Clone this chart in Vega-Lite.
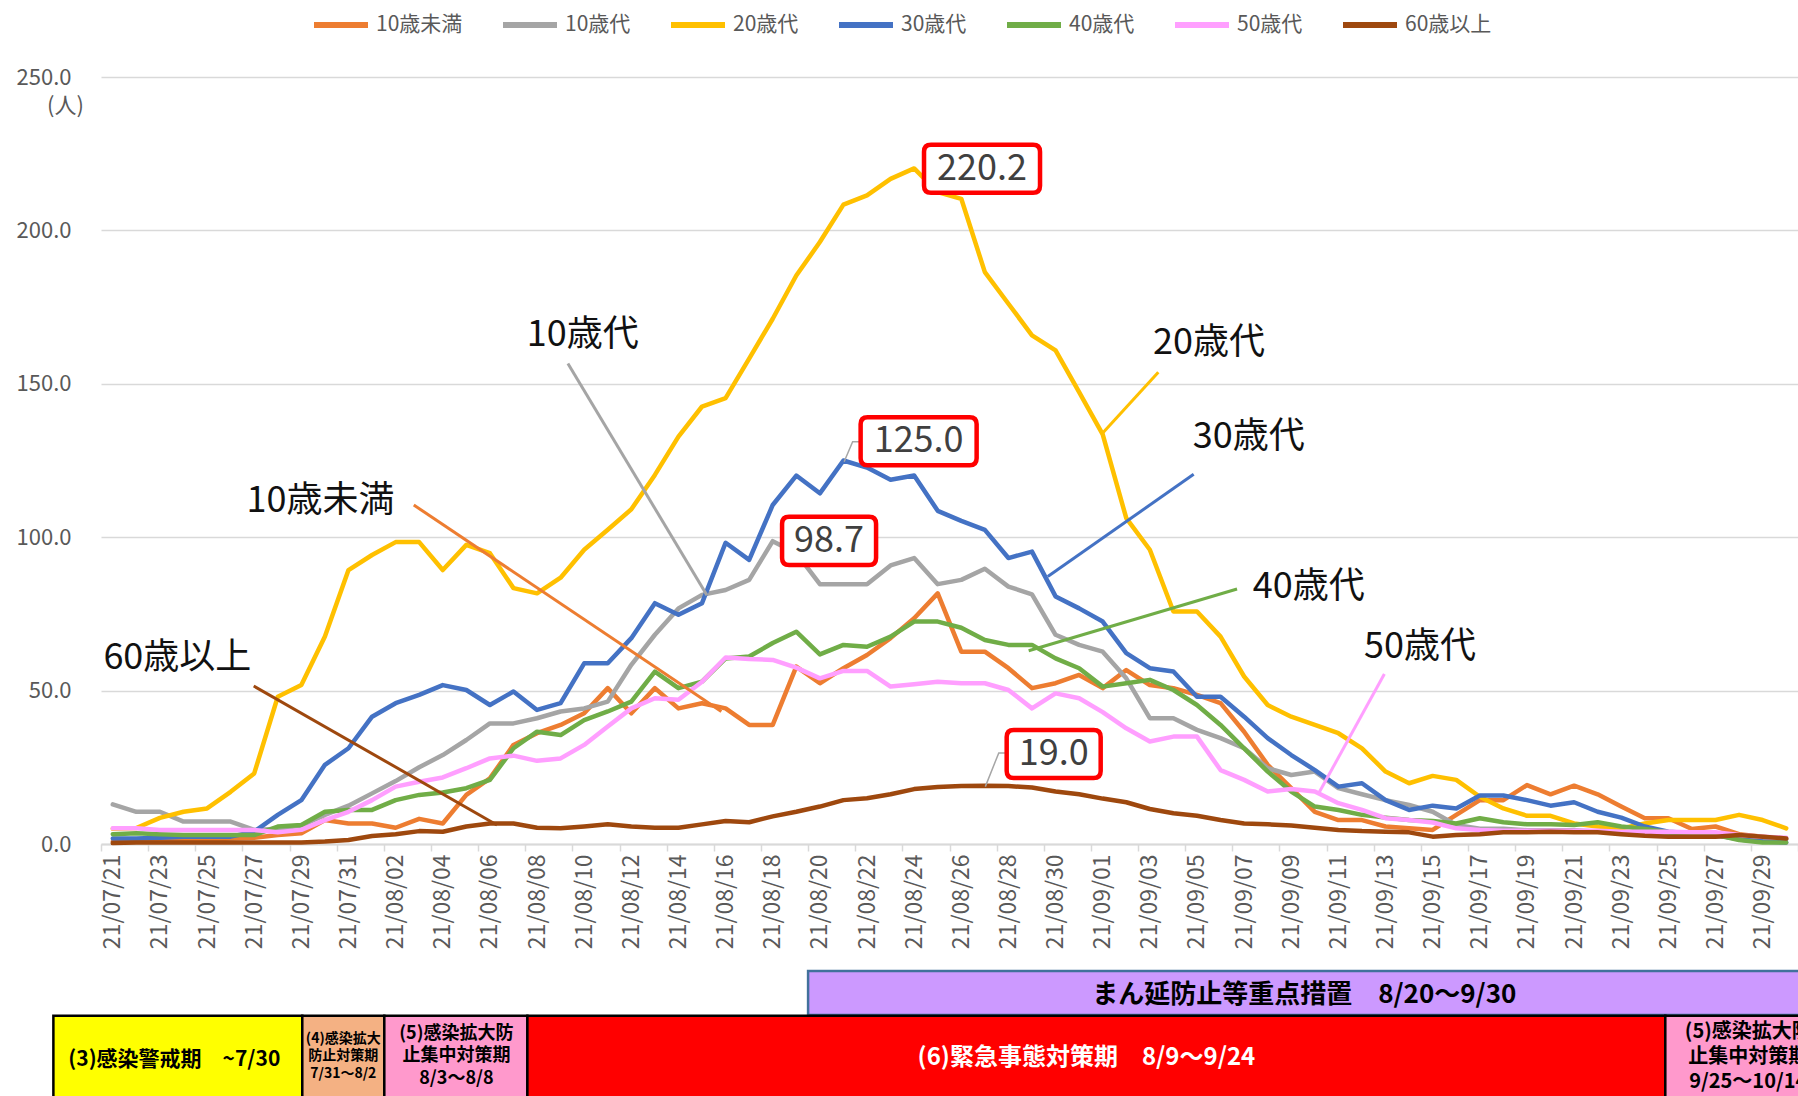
{
"$schema":"https://vega.github.io/schema/vega-lite/v6.json",
"width":1697,"height":767,
"autosize":{"type":"none"},
"padding":{"left":101,"top":77,"right":0,"bottom":252},
"background":"#FFFFFF",
"config":{"font":"Noto Sans CJK JP","view":{"stroke":null}},
"layer":[
{
"data":{"values":[
{"date":"2021-07-21","series":"10歳未満","count":0.8},{"date":"2021-07-22","series":"10歳未満","count":1.0},{"date":"2021-07-23","series":"10歳未満","count":1.0},{"date":"2021-07-24","series":"10歳未満","count":1.3},{"date":"2021-07-25","series":"10歳未満","count":1.5},{"date":"2021-07-26","series":"10歳未満","count":1.8},{"date":"2021-07-27","series":"10歳未満","count":2.0},{"date":"2021-07-28","series":"10歳未満","count":2.9},{"date":"2021-07-29","series":"10歳未満","count":3.5},{"date":"2021-07-30","series":"10歳未満","count":7.8},
{"date":"2021-07-31","series":"10歳未満","count":6.7},{"date":"2021-08-01","series":"10歳未満","count":6.7},{"date":"2021-08-02","series":"10歳未満","count":5.3},{"date":"2021-08-03","series":"10歳未満","count":8.2},{"date":"2021-08-04","series":"10歳未満","count":6.7},{"date":"2021-08-05","series":"10歳未満","count":16.0},{"date":"2021-08-06","series":"10歳未満","count":21.4},{"date":"2021-08-07","series":"10歳未満","count":32.3},{"date":"2021-08-08","series":"10歳未満","count":36.1},{"date":"2021-08-09","series":"10歳未満","count":38.8},
{"date":"2021-08-10","series":"10歳未満","count":42.6},{"date":"2021-08-11","series":"10歳未満","count":50.8},{"date":"2021-08-12","series":"10歳未満","count":42.6},{"date":"2021-08-13","series":"10歳未満","count":50.8},{"date":"2021-08-14","series":"10歳未満","count":44.2},{"date":"2021-08-15","series":"10歳未満","count":45.9},{"date":"2021-08-16","series":"10歳未満","count":44.2},{"date":"2021-08-17","series":"10歳未満","count":38.8},{"date":"2021-08-18","series":"10歳未満","count":38.8},{"date":"2021-08-19","series":"10歳未満","count":57.8},
{"date":"2021-08-20","series":"10歳未満","count":52.4},{"date":"2021-08-21","series":"10歳未満","count":57.3},{"date":"2021-08-22","series":"10歳未満","count":61.6},{"date":"2021-08-23","series":"10歳未満","count":67.1},{"date":"2021-08-24","series":"10歳未満","count":73.6},{"date":"2021-08-25","series":"10歳未満","count":81.7},{"date":"2021-08-26","series":"10歳未満","count":62.7},{"date":"2021-08-27","series":"10歳未満","count":62.7},{"date":"2021-08-28","series":"10歳未満","count":57.3},{"date":"2021-08-29","series":"10歳未満","count":50.8},
{"date":"2021-08-30","series":"10歳未満","count":52.4},{"date":"2021-08-31","series":"10歳未満","count":55.1},{"date":"2021-09-01","series":"10歳未満","count":50.8},{"date":"2021-09-02","series":"10歳未満","count":56.7},{"date":"2021-09-03","series":"10歳未満","count":51.8},{"date":"2021-09-04","series":"10歳未満","count":50.8},{"date":"2021-09-05","series":"10歳未満","count":48.6},{"date":"2021-09-06","series":"10歳未満","count":45.9},{"date":"2021-09-07","series":"10歳未満","count":36.6},{"date":"2021-09-08","series":"10歳未満","count":25.8},
{"date":"2021-09-09","series":"10歳未満","count":18.2},{"date":"2021-09-10","series":"10歳未満","count":10.5},{"date":"2021-09-11","series":"10歳未満","count":7.8},{"date":"2021-09-12","series":"10歳未満","count":7.8},{"date":"2021-09-13","series":"10歳未満","count":5.7},{"date":"2021-09-14","series":"10歳未満","count":5.1},{"date":"2021-09-15","series":"10歳未満","count":4.6},{"date":"2021-09-16","series":"10歳未満","count":9.5},{"date":"2021-09-17","series":"10歳未満","count":14.3},{"date":"2021-09-18","series":"10歳未満","count":14.3},
{"date":"2021-09-19","series":"10歳未満","count":19.2},{"date":"2021-09-20","series":"10歳未満","count":16.2},{"date":"2021-09-21","series":"10歳未満","count":19.0},{"date":"2021-09-22","series":"10歳未満","count":16.2},{"date":"2021-09-23","series":"10歳未満","count":12.2},{"date":"2021-09-24","series":"10歳未満","count":8.4},{"date":"2021-09-25","series":"10歳未満","count":8.4},{"date":"2021-09-26","series":"10歳未満","count":4.9},{"date":"2021-09-27","series":"10歳未満","count":5.7},{"date":"2021-09-28","series":"10歳未満","count":3.2},
{"date":"2021-09-29","series":"10歳未満","count":2.4},{"date":"2021-09-30","series":"10歳未満","count":1.6},

{"date":"2021-07-21","series":"10歳代","count":12.9},{"date":"2021-07-22","series":"10歳代","count":10.5},{"date":"2021-07-23","series":"10歳代","count":10.5},{"date":"2021-07-24","series":"10歳代","count":7.3},{"date":"2021-07-25","series":"10歳代","count":7.3},{"date":"2021-07-26","series":"10歳代","count":7.3},{"date":"2021-07-27","series":"10歳代","count":4.6},{"date":"2021-07-28","series":"10歳代","count":5.0},{"date":"2021-07-29","series":"10歳代","count":6.0},{"date":"2021-07-30","series":"10歳代","count":9.5},
{"date":"2021-07-31","series":"10歳代","count":12.5},{"date":"2021-08-01","series":"10歳代","count":16.5},{"date":"2021-08-02","series":"10歳代","count":20.5},{"date":"2021-08-03","series":"10歳代","count":25.0},{"date":"2021-08-04","series":"10歳代","count":29.0},{"date":"2021-08-05","series":"10歳代","count":33.9},{"date":"2021-08-06","series":"10歳代","count":39.3},{"date":"2021-08-07","series":"10歳代","count":39.3},{"date":"2021-08-08","series":"10歳代","count":41.0},{"date":"2021-08-09","series":"10歳代","count":43.2},
{"date":"2021-08-10","series":"10歳代","count":44.2},{"date":"2021-08-11","series":"10歳代","count":46.4},{"date":"2021-08-12","series":"10歳代","count":58.4},{"date":"2021-08-13","series":"10歳代","count":68.2},{"date":"2021-08-14","series":"10歳代","count":76.8},{"date":"2021-08-15","series":"10歳代","count":81.2},{"date":"2021-08-16","series":"10歳代","count":82.8},{"date":"2021-08-17","series":"10歳代","count":86.1},{"date":"2021-08-18","series":"10歳代","count":98.7},{"date":"2021-08-19","series":"10歳代","count":94.8},
{"date":"2021-08-20","series":"10歳代","count":84.7},{"date":"2021-08-21","series":"10歳代","count":84.7},{"date":"2021-08-22","series":"10歳代","count":84.7},{"date":"2021-08-23","series":"10歳代","count":90.8},{"date":"2021-08-24","series":"10歳代","count":93.2},{"date":"2021-08-25","series":"10歳代","count":84.7},{"date":"2021-08-26","series":"10歳代","count":86.1},{"date":"2021-08-27","series":"10歳代","count":89.7},{"date":"2021-08-28","series":"10歳代","count":83.9},{"date":"2021-08-29","series":"10歳代","count":81.4},
{"date":"2021-08-30","series":"10歳代","count":68.2},{"date":"2021-08-31","series":"10歳代","count":64.9},{"date":"2021-09-01","series":"10歳代","count":62.7},{"date":"2021-09-02","series":"10歳代","count":54.0},{"date":"2021-09-03","series":"10歳代","count":41.0},{"date":"2021-09-04","series":"10歳代","count":41.0},{"date":"2021-09-05","series":"10歳代","count":37.2},{"date":"2021-09-06","series":"10歳代","count":34.5},{"date":"2021-09-07","series":"10歳代","count":31.2},{"date":"2021-09-08","series":"10歳代","count":24.7},
{"date":"2021-09-09","series":"10歳代","count":22.5},{"date":"2021-09-10","series":"10歳代","count":23.6},{"date":"2021-09-11","series":"10歳代","count":18.2},{"date":"2021-09-12","series":"10歳代","count":16.2},{"date":"2021-09-13","series":"10歳代","count":14.3},{"date":"2021-09-14","series":"10歳代","count":12.7},{"date":"2021-09-15","series":"10歳代","count":10.5},{"date":"2021-09-16","series":"10歳代","count":6.2},{"date":"2021-09-17","series":"10歳代","count":5.0},{"date":"2021-09-18","series":"10歳代","count":5.0},
{"date":"2021-09-19","series":"10歳代","count":4.5},{"date":"2021-09-20","series":"10歳代","count":4.5},{"date":"2021-09-21","series":"10歳代","count":4.5},{"date":"2021-09-22","series":"10歳代","count":4.0},{"date":"2021-09-23","series":"10歳代","count":4.0},{"date":"2021-09-24","series":"10歳代","count":3.5},{"date":"2021-09-25","series":"10歳代","count":3.0},{"date":"2021-09-26","series":"10歳代","count":3.0},{"date":"2021-09-27","series":"10歳代","count":2.5},{"date":"2021-09-28","series":"10歳代","count":2.0},
{"date":"2021-09-29","series":"10歳代","count":1.5},{"date":"2021-09-30","series":"10歳代","count":1.5},

{"date":"2021-07-21","series":"20歳代","count":5.0},{"date":"2021-07-22","series":"20歳代","count":5.2},{"date":"2021-07-23","series":"20歳代","count":8.5},{"date":"2021-07-24","series":"20歳代","count":10.5},{"date":"2021-07-25","series":"20歳代","count":11.6},{"date":"2021-07-26","series":"20歳代","count":17.0},{"date":"2021-07-27","series":"20歳代","count":23.0},{"date":"2021-07-28","series":"20歳代","count":48.0},{"date":"2021-07-29","series":"20歳代","count":51.8},{"date":"2021-07-30","series":"20歳代","count":67.6},
{"date":"2021-07-31","series":"20歳代","count":89.3},{"date":"2021-08-01","series":"20歳代","count":94.2},{"date":"2021-08-02","series":"20歳代","count":98.4},{"date":"2021-08-03","series":"20歳代","count":98.4},{"date":"2021-08-04","series":"20歳代","count":89.3},{"date":"2021-08-05","series":"20歳代","count":97.5},{"date":"2021-08-06","series":"20歳代","count":94.8},{"date":"2021-08-07","series":"20歳代","count":83.4},{"date":"2021-08-08","series":"20歳代","count":81.7},{"date":"2021-08-09","series":"20歳代","count":86.8},
{"date":"2021-08-10","series":"20歳代","count":95.9},{"date":"2021-08-11","series":"20歳代","count":102.4},{"date":"2021-08-12","series":"20歳代","count":109.1},{"date":"2021-08-13","series":"20歳代","count":120.3},{"date":"2021-08-14","series":"20歳代","count":132.8},{"date":"2021-08-15","series":"20歳代","count":142.6},{"date":"2021-08-16","series":"20歳代","count":145.3},{"date":"2021-08-17","series":"20歳代","count":158.2},{"date":"2021-08-18","series":"20歳代","count":171.2},{"date":"2021-08-19","series":"20歳代","count":185.3},
{"date":"2021-08-20","series":"20歳代","count":196.2},{"date":"2021-08-21","series":"20歳代","count":208.4},{"date":"2021-08-22","series":"20歳代","count":211.4},{"date":"2021-08-23","series":"20歳代","count":216.8},{"date":"2021-08-24","series":"20歳代","count":220.2},{"date":"2021-08-25","series":"20歳代","count":212.5},{"date":"2021-08-26","series":"20歳代","count":210.3},{"date":"2021-08-27","series":"20歳代","count":186.4},{"date":"2021-08-28","series":"20歳代","count":176.1},{"date":"2021-08-29","series":"20歳代","count":165.8},
{"date":"2021-08-30","series":"20歳代","count":160.9},{"date":"2021-08-31","series":"20歳代","count":147.3},{"date":"2021-09-01","series":"20歳代","count":133.5},{"date":"2021-09-02","series":"20歳代","count":106.2},{"date":"2021-09-03","series":"20歳代","count":95.9},{"date":"2021-09-04","series":"20歳代","count":75.8},{"date":"2021-09-05","series":"20歳代","count":75.8},{"date":"2021-09-06","series":"20歳代","count":67.6},{"date":"2021-09-07","series":"20歳代","count":54.6},{"date":"2021-09-08","series":"20歳代","count":45.3},
{"date":"2021-09-09","series":"20歳代","count":41.5},{"date":"2021-09-10","series":"20歳代","count":38.8},{"date":"2021-09-11","series":"20歳代","count":36.1},{"date":"2021-09-12","series":"20歳代","count":31.2},{"date":"2021-09-13","series":"20歳代","count":23.6},{"date":"2021-09-14","series":"20歳代","count":19.8},{"date":"2021-09-15","series":"20歳代","count":22.2},{"date":"2021-09-16","series":"20歳代","count":20.9},{"date":"2021-09-17","series":"20歳代","count":15.4},{"date":"2021-09-18","series":"20歳代","count":11.6},
{"date":"2021-09-19","series":"20歳代","count":9.2},{"date":"2021-09-20","series":"20歳代","count":9.2},{"date":"2021-09-21","series":"20歳代","count":6.7},{"date":"2021-09-22","series":"20歳代","count":5.7},{"date":"2021-09-23","series":"20歳代","count":5.1},{"date":"2021-09-24","series":"20歳代","count":6.7},{"date":"2021-09-25","series":"20歳代","count":7.8},{"date":"2021-09-26","series":"20歳代","count":7.8},{"date":"2021-09-27","series":"20歳代","count":7.8},{"date":"2021-09-28","series":"20歳代","count":9.5},
{"date":"2021-09-29","series":"20歳代","count":7.8},{"date":"2021-09-30","series":"20歳代","count":5.1},

{"date":"2021-07-21","series":"30歳代","count":1.8},{"date":"2021-07-22","series":"30歳代","count":1.8},{"date":"2021-07-23","series":"30歳代","count":2.0},{"date":"2021-07-24","series":"30歳代","count":2.4},{"date":"2021-07-25","series":"30歳代","count":2.4},{"date":"2021-07-26","series":"30歳代","count":2.4},{"date":"2021-07-27","series":"30歳代","count":4.0},{"date":"2021-07-28","series":"30歳代","count":9.5},{"date":"2021-07-29","series":"30歳代","count":14.3},{"date":"2021-07-30","series":"30歳代","count":25.8},
{"date":"2021-07-31","series":"30歳代","count":31.2},{"date":"2021-08-01","series":"30歳代","count":41.5},{"date":"2021-08-02","series":"30歳代","count":45.9},{"date":"2021-08-03","series":"30歳代","count":48.6},{"date":"2021-08-04","series":"30歳代","count":51.8},{"date":"2021-08-05","series":"30歳代","count":50.2},{"date":"2021-08-06","series":"30歳代","count":45.3},{"date":"2021-08-07","series":"30歳代","count":49.7},{"date":"2021-08-08","series":"30歳代","count":43.7},{"date":"2021-08-09","series":"30歳代","count":45.9},
{"date":"2021-08-10","series":"30歳代","count":58.9},{"date":"2021-08-11","series":"30歳代","count":58.9},{"date":"2021-08-12","series":"30歳代","count":67.1},{"date":"2021-08-13","series":"30歳代","count":78.5},{"date":"2021-08-14","series":"30歳代","count":74.7},{"date":"2021-08-15","series":"30歳代","count":78.5},{"date":"2021-08-16","series":"30歳代","count":98.2},{"date":"2021-08-17","series":"30歳代","count":92.6},{"date":"2021-08-18","series":"30歳代","count":110.5},{"date":"2021-08-19","series":"30歳代","count":120.1},
{"date":"2021-08-20","series":"30歳代","count":114.3},{"date":"2021-08-21","series":"30歳代","count":125.0},{"date":"2021-08-22","series":"30歳代","count":122.7},{"date":"2021-08-23","series":"30歳代","count":118.7},{"date":"2021-08-24","series":"30歳代","count":120.1},{"date":"2021-08-25","series":"30歳代","count":108.6},{"date":"2021-08-26","series":"30歳代","count":105.3},{"date":"2021-08-27","series":"30歳代","count":102.4},{"date":"2021-08-28","series":"30歳代","count":93.2},{"date":"2021-08-29","series":"30歳代","count":95.3},
{"date":"2021-08-30","series":"30歳代","count":80.7},{"date":"2021-08-31","series":"30歳代","count":76.8},{"date":"2021-09-01","series":"30歳代","count":72.5},{"date":"2021-09-02","series":"30歳代","count":62.2},{"date":"2021-09-03","series":"30歳代","count":57.3},{"date":"2021-09-04","series":"30歳代","count":56.2},{"date":"2021-09-05","series":"30歳代","count":48.0},{"date":"2021-09-06","series":"30歳代","count":48.0},{"date":"2021-09-07","series":"30歳代","count":41.5},{"date":"2021-09-08","series":"30歳代","count":34.5},
{"date":"2021-09-09","series":"30歳代","count":29.0},{"date":"2021-09-10","series":"30歳代","count":24.1},{"date":"2021-09-11","series":"30歳代","count":18.7},{"date":"2021-09-12","series":"30歳代","count":19.8},{"date":"2021-09-13","series":"30歳代","count":14.3},{"date":"2021-09-14","series":"30歳代","count":11.1},{"date":"2021-09-15","series":"30歳代","count":12.5},{"date":"2021-09-16","series":"30歳代","count":11.6},{"date":"2021-09-17","series":"30歳代","count":15.8},{"date":"2021-09-18","series":"30歳代","count":15.8},
{"date":"2021-09-19","series":"30歳代","count":14.3},{"date":"2021-09-20","series":"30歳代","count":12.5},{"date":"2021-09-21","series":"30歳代","count":13.6},{"date":"2021-09-22","series":"30歳代","count":10.5},{"date":"2021-09-23","series":"30歳代","count":8.6},{"date":"2021-09-24","series":"30歳代","count":5.7},{"date":"2021-09-25","series":"30歳代","count":4.0},{"date":"2021-09-26","series":"30歳代","count":3.5},{"date":"2021-09-27","series":"30歳代","count":3.0},{"date":"2021-09-28","series":"30歳代","count":1.5},
{"date":"2021-09-29","series":"30歳代","count":0.8},{"date":"2021-09-30","series":"30歳代","count":0.5},

{"date":"2021-07-21","series":"40歳代","count":3.2},{"date":"2021-07-22","series":"40歳代","count":3.5},{"date":"2021-07-23","series":"40歳代","count":3.2},{"date":"2021-07-24","series":"40歳代","count":2.9},{"date":"2021-07-25","series":"40歳代","count":2.9},{"date":"2021-07-26","series":"40歳代","count":2.9},{"date":"2021-07-27","series":"40歳代","count":2.9},{"date":"2021-07-28","series":"40歳代","count":5.7},{"date":"2021-07-29","series":"40歳代","count":6.2},{"date":"2021-07-30","series":"40歳代","count":10.5},
{"date":"2021-07-31","series":"40歳代","count":11.1},{"date":"2021-08-01","series":"40歳代","count":11.1},{"date":"2021-08-02","series":"40歳代","count":14.3},{"date":"2021-08-03","series":"40歳代","count":16.0},{"date":"2021-08-04","series":"40歳代","count":16.8},{"date":"2021-08-05","series":"40歳代","count":18.2},{"date":"2021-08-06","series":"40歳代","count":20.9},{"date":"2021-08-07","series":"40歳代","count":31.2},{"date":"2021-08-08","series":"40歳代","count":36.6},{"date":"2021-08-09","series":"40歳代","count":35.5},
{"date":"2021-08-10","series":"40歳代","count":40.4},{"date":"2021-08-11","series":"40歳代","count":43.2},{"date":"2021-08-12","series":"40歳代","count":46.4},{"date":"2021-08-13","series":"40歳代","count":56.2},{"date":"2021-08-14","series":"40歳代","count":50.8},{"date":"2021-08-15","series":"40歳代","count":52.9},{"date":"2021-08-16","series":"40歳代","count":60.5},{"date":"2021-08-17","series":"40歳代","count":61.1},{"date":"2021-08-18","series":"40歳代","count":65.5},{"date":"2021-08-19","series":"40歳代","count":69.2},
{"date":"2021-08-20","series":"40歳代","count":61.8},{"date":"2021-08-21","series":"40歳代","count":64.9},{"date":"2021-08-22","series":"40歳代","count":64.3},{"date":"2021-08-23","series":"40歳代","count":67.6},{"date":"2021-08-24","series":"40歳代","count":72.5},{"date":"2021-08-25","series":"40歳代","count":72.5},{"date":"2021-08-26","series":"40歳代","count":70.5},{"date":"2021-08-27","series":"40歳代","count":66.5},{"date":"2021-08-28","series":"40歳代","count":64.9},{"date":"2021-08-29","series":"40歳代","count":64.9},
{"date":"2021-08-30","series":"40歳代","count":60.5},{"date":"2021-08-31","series":"40歳代","count":57.3},{"date":"2021-09-01","series":"40歳代","count":51.3},{"date":"2021-09-02","series":"40歳代","count":52.4},{"date":"2021-09-03","series":"40歳代","count":53.5},{"date":"2021-09-04","series":"40歳代","count":50.2},{"date":"2021-09-05","series":"40歳代","count":45.3},{"date":"2021-09-06","series":"40歳代","count":38.8},{"date":"2021-09-07","series":"40歳代","count":31.2},{"date":"2021-09-08","series":"40歳代","count":23.6},
{"date":"2021-09-09","series":"40歳代","count":17.1},{"date":"2021-09-10","series":"40歳代","count":12.2},{"date":"2021-09-11","series":"40歳代","count":11.1},{"date":"2021-09-12","series":"40歳代","count":9.5},{"date":"2021-09-13","series":"40歳代","count":8.6},{"date":"2021-09-14","series":"40歳代","count":7.8},{"date":"2021-09-15","series":"40歳代","count":7.5},{"date":"2021-09-16","series":"40歳代","count":6.7},{"date":"2021-09-17","series":"40歳代","count":8.4},{"date":"2021-09-18","series":"40歳代","count":7.1},
{"date":"2021-09-19","series":"40歳代","count":6.4},{"date":"2021-09-20","series":"40歳代","count":6.4},{"date":"2021-09-21","series":"40歳代","count":6.2},{"date":"2021-09-22","series":"40歳代","count":7.1},{"date":"2021-09-23","series":"40歳代","count":5.7},{"date":"2021-09-24","series":"40歳代","count":4.9},{"date":"2021-09-25","series":"40歳代","count":3.8},{"date":"2021-09-26","series":"40歳代","count":3.5},{"date":"2021-09-27","series":"40歳代","count":3.0},{"date":"2021-09-28","series":"40歳代","count":1.3},
{"date":"2021-09-29","series":"40歳代","count":0.5},{"date":"2021-09-30","series":"40歳代","count":0.5},

{"date":"2021-07-21","series":"50歳代","count":5.1},{"date":"2021-07-22","series":"50歳代","count":5.1},{"date":"2021-07-23","series":"50歳代","count":4.6},{"date":"2021-07-24","series":"50歳代","count":4.6},{"date":"2021-07-25","series":"50歳代","count":4.6},{"date":"2021-07-26","series":"50歳代","count":4.6},{"date":"2021-07-27","series":"50歳代","count":4.6},{"date":"2021-07-28","series":"50歳代","count":3.8},{"date":"2021-07-29","series":"50歳代","count":4.6},{"date":"2021-07-30","series":"50歳代","count":7.8},
{"date":"2021-07-31","series":"50歳代","count":10.5},{"date":"2021-08-01","series":"50歳代","count":14.3},{"date":"2021-08-02","series":"50歳代","count":18.7},{"date":"2021-08-03","series":"50歳代","count":20.3},{"date":"2021-08-04","series":"50歳代","count":21.7},{"date":"2021-08-05","series":"50歳代","count":24.7},{"date":"2021-08-06","series":"50歳代","count":27.9},{"date":"2021-08-07","series":"50歳代","count":28.8},{"date":"2021-08-08","series":"50歳代","count":27.1},{"date":"2021-08-09","series":"50歳代","count":27.9},
{"date":"2021-08-10","series":"50歳代","count":32.3},{"date":"2021-08-11","series":"50歳代","count":38.3},{"date":"2021-08-12","series":"50歳代","count":44.2},{"date":"2021-08-13","series":"50歳代","count":47.5},{"date":"2021-08-14","series":"50歳代","count":47.0},{"date":"2021-08-15","series":"50歳代","count":52.9},{"date":"2021-08-16","series":"50歳代","count":60.8},{"date":"2021-08-17","series":"50歳代","count":60.3},{"date":"2021-08-18","series":"50歳代","count":60.0},{"date":"2021-08-19","series":"50歳代","count":57.5},
{"date":"2021-08-20","series":"50歳代","count":54.0},{"date":"2021-08-21","series":"50歳代","count":56.4},{"date":"2021-08-22","series":"50歳代","count":56.4},{"date":"2021-08-23","series":"50歳代","count":51.3},{"date":"2021-08-24","series":"50歳代","count":52.1},{"date":"2021-08-25","series":"50歳代","count":52.9},{"date":"2021-08-26","series":"50歳代","count":52.4},{"date":"2021-08-27","series":"50歳代","count":52.4},{"date":"2021-08-28","series":"50歳代","count":50.2},{"date":"2021-08-29","series":"50歳代","count":44.2},
{"date":"2021-08-30","series":"50歳代","count":49.1},{"date":"2021-08-31","series":"50歳代","count":47.5},{"date":"2021-09-01","series":"50歳代","count":43.0},{"date":"2021-09-02","series":"50歳代","count":37.7},{"date":"2021-09-03","series":"50歳代","count":33.4},{"date":"2021-09-04","series":"50歳代","count":35.0},{"date":"2021-09-05","series":"50歳代","count":35.0},{"date":"2021-09-06","series":"50歳代","count":24.1},{"date":"2021-09-07","series":"50歳代","count":20.9},{"date":"2021-09-08","series":"50歳代","count":17.1},
{"date":"2021-09-09","series":"50歳代","count":17.9},{"date":"2021-09-10","series":"50歳代","count":17.1},{"date":"2021-09-11","series":"50歳代","count":13.3},{"date":"2021-09-12","series":"50歳代","count":11.1},{"date":"2021-09-13","series":"50歳代","count":8.4},{"date":"2021-09-14","series":"50歳代","count":7.8},{"date":"2021-09-15","series":"50歳代","count":7.0},{"date":"2021-09-16","series":"50歳代","count":5.1},{"date":"2021-09-17","series":"50歳代","count":4.6},{"date":"2021-09-18","series":"50歳代","count":4.3},
{"date":"2021-09-19","series":"50歳代","count":4.3},{"date":"2021-09-20","series":"50歳代","count":4.3},{"date":"2021-09-21","series":"50歳代","count":4.3},{"date":"2021-09-22","series":"50歳代","count":4.3},{"date":"2021-09-23","series":"50歳代","count":4.0},{"date":"2021-09-24","series":"50歳代","count":4.0},{"date":"2021-09-25","series":"50歳代","count":4.0},{"date":"2021-09-26","series":"50歳代","count":3.8},{"date":"2021-09-27","series":"50歳代","count":3.8},{"date":"2021-09-28","series":"50歳代","count":2.9},
{"date":"2021-09-29","series":"50歳代","count":2.4},{"date":"2021-09-30","series":"50歳代","count":2.0},

{"date":"2021-07-21","series":"60歳以上","count":0.3},{"date":"2021-07-22","series":"60歳以上","count":0.5},{"date":"2021-07-23","series":"60歳以上","count":0.5},{"date":"2021-07-24","series":"60歳以上","count":0.5},{"date":"2021-07-25","series":"60歳以上","count":0.5},{"date":"2021-07-26","series":"60歳以上","count":0.5},{"date":"2021-07-27","series":"60歳以上","count":0.5},{"date":"2021-07-28","series":"60歳以上","count":0.5},{"date":"2021-07-29","series":"60歳以上","count":0.5},{"date":"2021-07-30","series":"60歳以上","count":0.8},
{"date":"2021-07-31","series":"60歳以上","count":1.3},{"date":"2021-08-01","series":"60歳以上","count":2.6},{"date":"2021-08-02","series":"60歳以上","count":3.2},{"date":"2021-08-03","series":"60歳以上","count":4.2},{"date":"2021-08-04","series":"60歳以上","count":4.0},{"date":"2021-08-05","series":"60歳以上","count":5.7},{"date":"2021-08-06","series":"60歳以上","count":6.7},{"date":"2021-08-07","series":"60歳以上","count":6.7},{"date":"2021-08-08","series":"60歳以上","count":5.3},{"date":"2021-08-09","series":"60歳以上","count":5.1},
{"date":"2021-08-10","series":"60歳以上","count":5.7},{"date":"2021-08-11","series":"60歳以上","count":6.4},{"date":"2021-08-12","series":"60歳以上","count":5.7},{"date":"2021-08-13","series":"60歳以上","count":5.3},{"date":"2021-08-14","series":"60歳以上","count":5.3},{"date":"2021-08-15","series":"60歳以上","count":6.4},{"date":"2021-08-16","series":"60歳以上","count":7.5},{"date":"2021-08-17","series":"60歳以上","count":7.1},{"date":"2021-08-18","series":"60歳以上","count":9.0},{"date":"2021-08-19","series":"60歳以上","count":10.5},
{"date":"2021-08-20","series":"60歳以上","count":12.2},{"date":"2021-08-21","series":"60歳以上","count":14.3},{"date":"2021-08-22","series":"60歳以上","count":14.9},{"date":"2021-08-23","series":"60歳以上","count":16.2},{"date":"2021-08-24","series":"60歳以上","count":17.9},{"date":"2021-08-25","series":"60歳以上","count":18.6},{"date":"2021-08-26","series":"60歳以上","count":18.9},{"date":"2021-08-27","series":"60歳以上","count":19.0},{"date":"2021-08-28","series":"60歳以上","count":18.9},{"date":"2021-08-29","series":"60歳以上","count":18.4},
{"date":"2021-08-30","series":"60歳以上","count":17.1},{"date":"2021-08-31","series":"60歳以上","count":16.2},{"date":"2021-09-01","series":"60歳以上","count":14.8},{"date":"2021-09-02","series":"60歳以上","count":13.6},{"date":"2021-09-03","series":"60歳以上","count":11.4},{"date":"2021-09-04","series":"60歳以上","count":10.0},{"date":"2021-09-05","series":"60歳以上","count":9.2},{"date":"2021-09-06","series":"60歳以上","count":7.8},{"date":"2021-09-07","series":"60歳以上","count":6.7},{"date":"2021-09-08","series":"60歳以上","count":6.4},
{"date":"2021-09-09","series":"60歳以上","count":6.0},{"date":"2021-09-10","series":"60歳以上","count":5.3},{"date":"2021-09-11","series":"60歳以上","count":4.6},{"date":"2021-09-12","series":"60歳以上","count":4.2},{"date":"2021-09-13","series":"60歳以上","count":4.0},{"date":"2021-09-14","series":"60歳以上","count":3.8},{"date":"2021-09-15","series":"60歳以上","count":2.4},{"date":"2021-09-16","series":"60歳以上","count":2.9},{"date":"2021-09-17","series":"60歳以上","count":3.2},{"date":"2021-09-18","series":"60歳以上","count":3.8},
{"date":"2021-09-19","series":"60歳以上","count":3.8},{"date":"2021-09-20","series":"60歳以上","count":4.0},{"date":"2021-09-21","series":"60歳以上","count":3.8},{"date":"2021-09-22","series":"60歳以上","count":3.8},{"date":"2021-09-23","series":"60歳以上","count":3.2},{"date":"2021-09-24","series":"60歳以上","count":2.7},{"date":"2021-09-25","series":"60歳以上","count":2.4},{"date":"2021-09-26","series":"60歳以上","count":2.4},{"date":"2021-09-27","series":"60歳以上","count":2.4},{"date":"2021-09-28","series":"60歳以上","count":2.9},
{"date":"2021-09-29","series":"60歳以上","count":2.4},{"date":"2021-09-30","series":"60歳以上","count":1.8}
]},
"mark":{"type":"line","strokeWidth":4.5,"strokeJoin":"round","strokeCap":"round"},
"encoding":{
"x":{"field":"date","type":"temporal",
"scale":{"type":"utc","domain":[1626782400000,1633003200000],"nice":false},
"axis":{"title":null,"orient":"bottom","grid":false,
"values":[1626782400000,1626955200000,1627128000000,1627300800000,1627473600000,1627646400000,1627819200000,1627992000000,1628164800000,1628337600000,1628510400000,1628683200000,1628856000000,1629028800000,1629201600000,1629374400000,1629547200000,1629720000000,1629892800000,1630065600000,1630238400000,1630411200000,1630584000000,1630756800000,1630929600000,1631102400000,1631275200000,1631448000000,1631620800000,1631793600000,1631966400000,1632139200000,1632312000000,1632484800000,1632657600000,1632830400000,1633003200000],
"labelExpr":"time(datum.value) > 1632960000000 ? '' : utcFormat(time(datum.value) + 43200000, '%y/%m/%d')",
"labelOffset":11.8,"labelAngle":-90,"labelFontSize":23,"labelColor":"#595959","labelPadding":3,
"labelOverlap":false,"labelBound":false,"labelFlush":false,
"tickSize":7,"tickColor":"#D9D9D9","tickWidth":1.5,"domainColor":"#D9D9D9","domainWidth":2}},
"y":{"field":"count","type":"quantitative",
"scale":{"domain":[0,250],"nice":false,"zero":false},
"axis":{"values":[0,50,100,150,200,250],"format":".1f","labelFontSize":22,"labelColor":"#595959","labelPadding":30,"labelFlush":false,
"ticks":false,"domain":false,"grid":true,"gridColor":"#D9D9D9","gridWidth":1.5,
"title":"(人)","titleAngle":0,"titleX":-36,"titleY":28,"titleAlign":"center","titleBaseline":"middle","titleFontSize":22,"titleFontWeight":"normal","titleColor":"#595959"}},
"color":{"field":"series","type":"nominal",
"scale":{"domain":["10歳未満","10歳代","20歳代","30歳代","40歳代","50歳代","60歳以上"],"range":["#ED7D31","#A5A5A5","#FFC000","#4472C4","#70AD47","#FF9FFF","#9E480E"]},
"legend":{"orient":"none","legendX":210,"legendY":-82,"direction":"horizontal","columns":7,"title":null,"symbolType":"stroke","symbolSize":2916,"symbolStrokeWidth":6,"labelFontSize":21,"labelColor":"#595959","labelOffset":5,"columnPadding":28,"gridAlign":"each","padding":0,"labelLimit":300}}
}
},
{
"data":{"values":[{"measure":"まん延防止等重点措置","start":"2021-08-19T12:00:00Z","end":"2021-10-01T12:00:00Z"}],"format":{"parse":{"start":"date","end":"date"}}},
"mark":{"type":"rect","fill":"#CC99FF","stroke":"#41719C","strokeWidth":2.5},
"encoding":{
"x":{"field":"start","type":"temporal"},
"x2":{"field":"end"},
"y":{"datum":-41.4,"type":"quantitative"},
"y2":{"datum":-55.7}
}
},
{
"data":{"values":[
{"period":"(3)感染警戒期","start":"2021-07-18T11:31:00Z","end":"2021-07-29T00:58:00Z"},
{"period":"(4)感染拡大防止対策期","start":"2021-07-29T00:58:00Z","end":"2021-08-01T12:29:00Z"},
{"period":"(5)感染拡大防止集中対策期 8/3～8/8","start":"2021-08-01T12:29:00Z","end":"2021-08-07T14:10:00Z"},
{"period":"(6)緊急事態対策期","start":"2021-08-07T14:10:00Z","end":"2021-09-24T20:53:00Z"},
{"period":"(5)感染拡大防止集中対策期 9/25～","start":"2021-09-24T20:53:00Z","end":"2021-10-02T00:00:00Z"}
],"format":{"parse":{"start":"date","end":"date"}}},
"mark":{"type":"rect","stroke":"#000000","strokeWidth":2.5},
"encoding":{
"x":{"field":"start","type":"temporal"},
"x2":{"field":"end"},
"y":{"datum":-56,"type":"quantitative"},
"y2":{"datum":-95},
"fill":{"field":"period","type":"nominal","legend":null,"scale":{"domain":["(3)感染警戒期","(4)感染拡大防止対策期","(5)感染拡大防止集中対策期 8/3～8/8","(6)緊急事態対策期","(5)感染拡大防止集中対策期 9/25～"],"range":["#FFFF00","#F4B183","#FF99CC","#FF0000","#FF99CC"]}}
}
},
{
"data":{"values":[{"text":"まん延防止等重点措置　8/20～9/30","mid":"2021-09-09T13:12:00Z"}]},
"mark":{"type":"text","fontSize":26,"fontWeight":"bold","color":"#000000","align":"center","baseline":"middle"},
"encoding":{"x":{"field":"mid","type":"temporal"},"y":{"datum":-49.3,"type":"quantitative"},"text":{"field":"text"}}
},
{
"data":{"values":[{"text":"(3)感染警戒期　~7/30","mid":"2021-07-23T14:38:00Z"}]},
"mark":{"type":"text","fontSize":21,"fontWeight":"bold","color":"#000000","align":"center","baseline":"middle"},
"encoding":{"x":{"field":"mid","type":"temporal"},"y":{"datum":-70.3,"type":"quantitative"},"text":{"field":"text"}}
},
{
"data":{"values":[{"text":"(4)感染拡大\n防止対策期\n7/31～8/2","mid":"2021-07-30T18:43:00Z"}]},
"mark":{"type":"text","fontSize":14,"fontWeight":"bold","color":"#000000","align":"center","baseline":"middle","lineBreak":"\n","lineHeight":17.5},
"encoding":{"x":{"field":"mid","type":"temporal"},"y":{"datum":-63.4,"type":"quantitative"},"text":{"field":"text"}}
},
{
"data":{"values":[{"text":"(5)感染拡大防\n止集中対策期\n8/3～8/8","mid":"2021-08-04T13:55:00Z"}]},
"mark":{"type":"text","fontSize":18,"fontWeight":"bold","color":"#000000","align":"center","baseline":"middle","lineBreak":"\n","lineHeight":22.5},
"encoding":{"x":{"field":"mid","type":"temporal"},"y":{"datum":-61.8,"type":"quantitative"},"text":{"field":"text"}}
},
{
"data":{"values":[{"text":"(5)感染拡大防\n止集中対策期\n9/25～10/14","mid":"2021-09-28T09:22:00Z"}]},
"mark":{"type":"text","fontSize":20,"fontWeight":"bold","color":"#000000","align":"center","baseline":"middle","lineBreak":"\n","lineHeight":25},
"encoding":{"x":{"field":"mid","type":"temporal"},"y":{"datum":-61.3,"type":"quantitative"},"text":{"field":"text"}}
},
{
"data":{"values":[{"text":"(6)緊急事態対策期　8/9～9/24","mid":"2021-08-31T07:26:00Z"}]},
"mark":{"type":"text","fontSize":24,"fontWeight":"bold","color":"#FFFFFF","align":"center","baseline":"middle"},
"encoding":{"x":{"field":"mid","type":"temporal"},"y":{"datum":-69.8,"type":"quantitative"},"text":{"field":"text"}}
},
{
"data":{"values":[
{"series":"10歳未満","date":"2021-08-02T18:29:00Z","value":110.5,"date2":"2021-08-15T19:41:00Z","value2":43.2},
{"series":"10歳代","date":"2021-08-09T07:26:00Z","value":156.6,"date2":"2021-08-15T05:02:00Z","value2":81.1},
{"series":"20歳代","date":"2021-09-03T08:38:00Z","value":153.8,"date2":"2021-08-31T23:46:00Z","value2":133.9},
{"series":"30歳代","date":"2021-09-04T20:38:00Z","value":120.5,"date2":"2021-08-29T16:05:00Z","value2":87.2},
{"series":"40歳代","date":"2021-09-06T16:48:00Z","value":83.1,"date2":"2021-08-28T20:38:00Z","value2":63.0},
{"series":"50歳代","date":"2021-09-12T22:48:00Z","value":55.4,"date2":"2021-09-10T04:05:00Z","value2":16.6},
{"series":"60歳以上","date":"2021-07-26T23:31:00Z","value":51.5,"date2":"2021-08-06T07:12:00Z","value2":6.2}
],"format":{"parse":{"date":"date","date2":"date"}}},
"mark":{"type":"rule","strokeWidth":3},
"encoding":{
"x":{"field":"date","type":"temporal"},
"x2":{"field":"date2"},
"y":{"field":"value","type":"quantitative"},
"y2":{"field":"value2"},
"color":{"field":"series","type":"nominal","legend":null}
}
},
{
"data":{"values":[
{"label":"10歳未満","date":"2021-07-29T19:26:00Z","value":111.8},
{"label":"60歳以上","date":"2021-07-23T17:46:00Z","value":60.6},
{"label":"10歳代","date":"2021-08-09T22:34:00Z","value":165.9},
{"label":"20歳代","date":"2021-09-05T12:14:00Z","value":163.2},
{"label":"30歳代","date":"2021-09-07T04:48:00Z","value":132.6},
{"label":"40歳代","date":"2021-09-09T17:46:00Z","value":83.7},
{"label":"50歳代","date":"2021-09-14T11:02:00Z","value":64.2}
],"format":{"parse":{"date":"date"}}},
"mark":{"type":"text","fontSize":36,"color":"#111111","align":"center","baseline":"middle"},
"encoding":{
"x":{"field":"date","type":"temporal"},
"y":{"field":"value","type":"quantitative"},
"text":{"field":"label"}
}
},
{
"data":{"values":[
{"label":"125.0","date":"2021-08-21T00:43:00Z","value":124.6},
{"label":"125.0","date":"2021-08-21T09:22:00Z","value":131.1},
{"label":"125.0","date":"2021-08-21T17:17:00Z","value":131.1},
{"label":"19.0","date":"2021-08-27T00:29:00Z","value":18.7},
{"label":"19.0","date":"2021-08-27T14:10:00Z","value":29.7},
{"label":"19.0","date":"2021-08-27T22:34:00Z","value":29.7}
],"format":{"parse":{"date":"date"}}},
"mark":{"type":"line","color":"#A6A6A6","strokeWidth":1.5},
"encoding":{
"x":{"field":"date","type":"temporal"},
"y":{"field":"value","type":"quantitative"},
"detail":{"field":"label"}
}
},
{
"data":{"values":[
{"label":"220.2","date":"2021-08-26T21:07:00Z","value":220.1},
{"label":"125.0","date":"2021-08-24T04:34:00Z","value":131.3}
],"format":{"parse":{"date":"date"}}},
"mark":{"type":"point","shape":"M-0.88,-0.414L0.88,-0.414Q1,-0.414 1,-0.294L1,0.294Q1,0.414 0.88,0.414L-0.88,0.414Q-1,0.414 -1,0.294L-1,-0.294Q-1,-0.414 -0.88,-0.414Z","size":13456,"filled":true,"fill":"#FFFFFF","stroke":"#FF0000","strokeWidth":4.5,"opacity":1},
"encoding":{
"x":{"field":"date","type":"temporal"},
"y":{"field":"value","type":"quantitative"}
}
},
{
"data":{"values":[
{"label":"98.7","date":"2021-08-20T09:22:00Z","value":98.8},
{"label":"19.0","date":"2021-08-29T22:05:00Z","value":29.3}
],"format":{"parse":{"date":"date"}}},
"mark":{"type":"point","shape":"M-0.851,-0.511L0.851,-0.511Q1,-0.511 1,-0.362L1,0.362Q1,0.511 0.851,0.511L-0.851,0.511Q-1,0.511 -1,0.362L-1,-0.362Q-1,-0.511 -0.851,-0.511Z","size":8836,"filled":true,"fill":"#FFFFFF","stroke":"#FF0000","strokeWidth":4.5,"opacity":1},
"encoding":{
"x":{"field":"date","type":"temporal"},
"y":{"field":"value","type":"quantitative"}
}
},
{
"data":{"values":[
{"label":"220.2","date":"2021-08-26T21:07:00Z","value":220.1},
{"label":"125.0","date":"2021-08-24T04:34:00Z","value":131.3},
{"label":"98.7","date":"2021-08-20T09:22:00Z","value":98.8},
{"label":"19.0","date":"2021-08-29T22:05:00Z","value":29.3}
],"format":{"parse":{"date":"date"}}},
"mark":{"type":"text","fontSize":36,"color":"#404040","align":"center","baseline":"middle"},
"encoding":{
"x":{"field":"date","type":"temporal"},
"y":{"field":"value","type":"quantitative"},
"text":{"field":"label"}
}
}
]
}
